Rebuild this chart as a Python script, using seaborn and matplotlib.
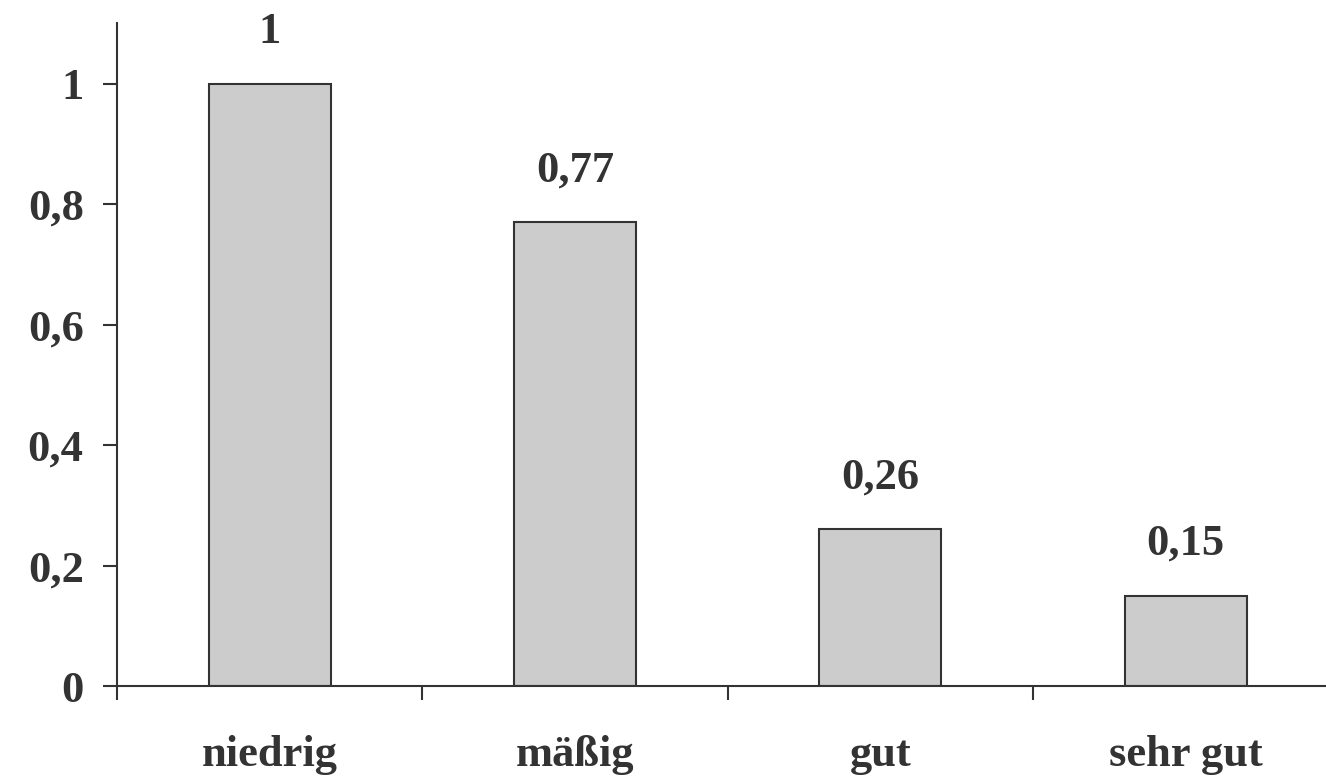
import matplotlib
matplotlib.use("Agg")
import matplotlib.pyplot as plt
import seaborn as sns
import pandas as pd
from matplotlib.ticker import FixedLocator

categories = ["niedrig", "mäßig", "gut", "sehr gut"]
values = [1.0, 0.77, 0.26, 0.15]
value_labels = ["1", "0,77", "0,26", "0,15"]
ytick_vals = [0, 0.2, 0.4, 0.6, 0.8, 1.0]
ytick_labels = ["0", "0,2", "0,4", "0,6", "0,8", "1"]

sns.set_style("white")
plt.rcParams["font.family"] = ["Liberation Serif", "DejaVu Serif"]
plt.rcParams["font.weight"] = "bold"

df = pd.DataFrame({"cat": categories, "val": values})

fig = plt.figure(figsize=(13.26, 7.78), dpi=100)
ax = fig.add_axes([117/1326, (778-686)/778, 1 - 117/1326, (686-23)/778])

txt = "#333333"
fs = 32
sns.barplot(data=df, x="cat", y="val", ax=ax, color="#cccccc", saturation=1,
            width=0.40, edgecolor="#333333", linewidth=1.5)

ax.set_xlim(-0.5, 3.46)
ax.set_ylim(0, 1.101)

for s in ["top", "right"]:
    ax.spines[s].set_visible(False)
for s in ["left", "bottom"]:
    ax.spines[s].set_color("#333333")
    ax.spines[s].set_linewidth(1.5)

ax.set_yticks(ytick_vals)
ax.set_yticklabels(ytick_labels, fontsize=fs, fontweight="bold", color=txt)
ax.tick_params(axis="y", direction="out", length=10, width=1.5, color="#333333", pad=14, left=True)

# category boundaries as major ticks, labels on minor ticks at centers
ax.xaxis.set_major_locator(FixedLocator([-0.5, 0.5, 1.5, 2.5]))
ax.set_xticklabels([])
ax.xaxis.set_minor_locator(FixedLocator(list(range(len(categories)))))
ax.set_xticklabels(categories, minor=True, fontsize=fs, fontweight="bold", color=txt)
ax.tick_params(axis="x", which="major", direction="out", length=10, width=1.5, color="#333333", bottom=True)
ax.tick_params(axis="x", which="minor", length=0, pad=35)
ax.set_xlabel("")
ax.set_ylabel("")

for i, (v, lab) in enumerate(zip(values, value_labels)):
    ax.annotate(lab, xy=(i, v), xytext=(0, 23), textcoords="offset points",
                ha="center", va="bottom", fontsize=fs, fontweight="bold", color=txt,
                annotation_clip=False)

fig.savefig("out.png", dpi=100, facecolor="white")
